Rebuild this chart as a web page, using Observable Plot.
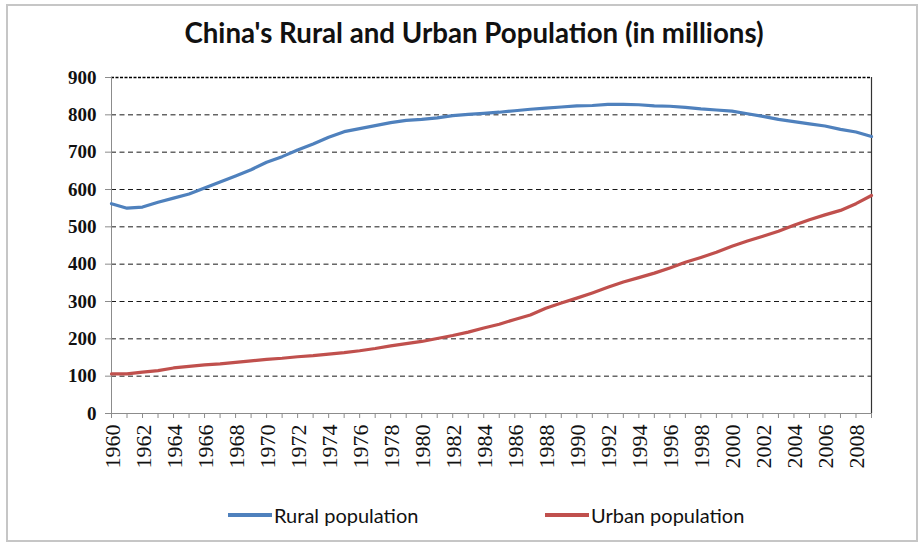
<!DOCTYPE html>
<html>
<head>
<meta charset="utf-8">
<script src="https://cdn.jsdelivr.net/npm/d3@7"></script>
<script src="https://cdn.jsdelivr.net/npm/@observablehq/plot@0.6"></script>
<style>
  html, body { margin: 0; padding: 0; background: #fff; }
  #wrap { position: relative; width: 920px; height: 544px; overflow: hidden; background: #fff; }
  #frame { position: absolute; left: 6px; top: 4px; width: 908px; height: 534px; border: 2px solid #c6c6c6; }
  #title { position: absolute; left: 0; top: 16px; width: 948px; text-align: center; font-family: Lato, sans-serif; font-weight: bold; font-size: 27.7px; color: #111; white-space: nowrap; }
  #chart { position: absolute; left: 0; top: 60px; }
  #legend { position: absolute; top: 505px; left: 0; width: 920px; font-family: Lato, sans-serif; font-size: 20px; line-height: 20px; color: #111; }
  .item { position: absolute; display: flex; align-items: center; white-space: nowrap; }
  .swatch { display: inline-block; width: 44px; height: 3.5px; margin-right: 2px; }
</style>
</head>
<body>
<div id="wrap">
  <div id="frame"></div>
  <div id="title">China's Rural and Urban Population (in millions)</div>
  <div id="chart"></div>
  <div id="legend"></div>
</div>
<script>
const years = [1960,1961,1962,1963,1964,1965,1966,1967,1968,1969,
               1970,1971,1972,1973,1974,1975,1976,1977,1978,1979,
               1980,1981,1982,1983,1984,1985,1986,1987,1988,1989,
               1990,1991,1992,1993,1994,1995,1996,1997,1998,1999,
               2000,2001,2002,2003,2004,2005,2006,2007,2008,2009];
const rural = [562,550,553,566,577,588,604,620,636,653,
               673,688,706,722,740,755,763,771,779,785,
               788,792,798,801,804,807,811,815,818,821,
               824,825,828,828,827,824,823,820,816,813,
               810,803,796,788,782,776,770,761,754,742];
const urban = [106,106,111,115,122,126,130,133,137,141,
               145,148,152,155,159,163,168,174,181,187,
               193,201,209,218,229,239,252,264,282,296,
               309,323,338,352,364,376,390,405,418,432,
               448,462,475,488,504,519,532,544,562,584];
const yTicks = [0,100,200,300,400,500,600,700,800,900];
const xLabelYears = [1960,1962,1964,1966,1968,1970,1972,1974,1976,1978,1980,1982,1984,
                     1986,1988,1990,1992,1994,1996,1998,2000,2002,2004,2006,2008];
const seriesNames = ["Rural population", "Urban population"];
const seriesColors = ["#4F81BD", "#C0504D"];

const rows = years.map((y, i) => ({year: y, rural: rural[i], urban: urban[i]}));

const chart = Plot.plot({
  width: 920,
  height: 420,
  marginTop: 17,
  marginBottom: 67,
  marginLeft: 111,
  marginRight: 49,
  x: {domain: [1960, 2009]},
  y: {domain: [0, 900]},
  marks: [
    Plot.ruleY(yTicks.filter(d => d > 0 && d < 900), {stroke: "#000", strokeOpacity: 0.9, strokeDasharray: "5,3.5", strokeWidth: 1}),
    Plot.ruleY([900], {stroke: "#000", strokeDasharray: "3,1.5", strokeWidth: 1.5}),
    Plot.ruleX([1960], {stroke: "#8c8c8c", strokeWidth: 1}),
    Plot.ruleX([2009], {stroke: "#333", strokeWidth: 1.2}),
    Plot.ruleY([0], {stroke: "#8c8c8c", strokeWidth: 1}),
    Plot.line(rows, {x: "year", y: "rural", stroke: seriesColors[0], strokeWidth: 3.2}),
    Plot.line(rows, {x: "year", y: "urban", stroke: seriesColors[1], strokeWidth: 3.2}),
    Plot.axisY({ticks: yTicks, tickSize: 6, tickPadding: 9, stroke: "#8c8c8c", label: null,
      fontFamily: "Liberation Serif", fontWeight: "bold", fontSize: 19, fill: "#111", tickFormat: d => String(d)}),
    Plot.axisX({ticks: years, tickSize: 5, stroke: "#8c8c8c", label: null, tickFormat: () => ""}),
    Plot.text(xLabelYears, {x: d => d, y: () => 0, text: d => String(d), rotate: -90, textAnchor: "end",
      dy: 11, dx: 1, fontFamily: "Liberation Serif", fontSize: 22, fill: "#111"})
  ]
});
document.getElementById("chart").appendChild(chart);

const legend = document.getElementById("legend");
const lefts = [228, 545];
seriesNames.forEach((name, i) => {
  const it = document.createElement("div");
  it.className = "item";
  it.style.left = lefts[i] + "px";
  const sw = document.createElement("span");
  sw.className = "swatch";
  sw.style.background = seriesColors[i];
  const tx = document.createElement("span");
  tx.textContent = name;
  it.appendChild(sw);
  it.appendChild(tx);
  legend.appendChild(it);
});
</script>
</body>
</html>
